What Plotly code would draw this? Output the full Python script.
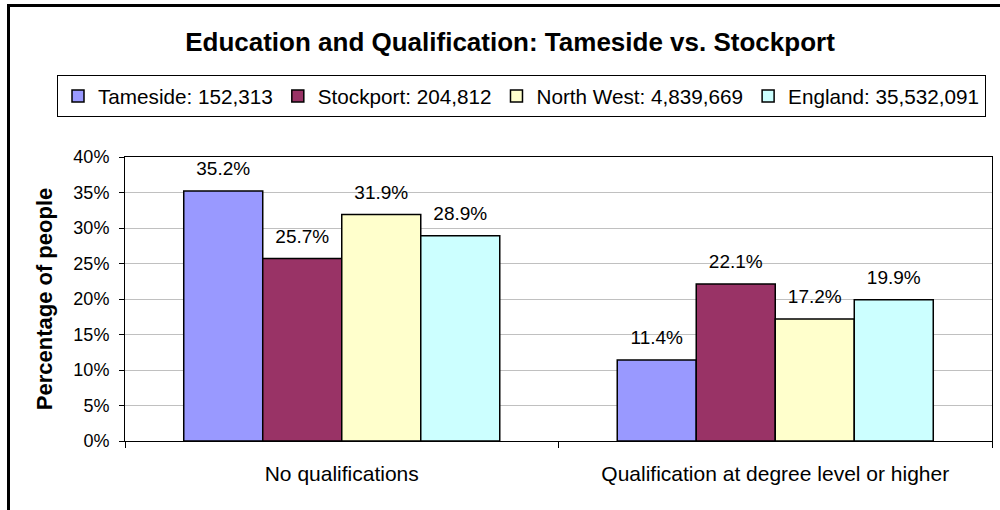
import plotly.graph_objects as go

categories = ["No qualifications", "Qualification at degree level or higher"]
series_names = ["Tameside: 152,313", "Stockport: 204,812",
                "North West: 4,839,669", "England: 35,532,091"]
tameside = [35.2, 11.4]
stockport = [25.7, 22.1]
north_west = [31.9, 17.2]
england = [28.9, 19.9]
colors = ["#9999FF", "#993366", "#FFFFCC", "#CCFFFF"]
y_ticks = [0, 5, 10, 15, 20, 25, 30, 35, 40]
y_tick_labels = ["0%", "5%", "10%", "15%", "20%", "25%", "30%", "35%", "40%"]

FONT = "Liberation Sans, Arial, sans-serif"
values = [tameside, stockport, north_west, england]

fig = go.Figure()
for name, vals, col in zip(series_names, values, colors):
    fig.add_trace(go.Bar(
        x=categories, y=vals, name=name,
        marker=dict(color=col, line=dict(color="black", width=1.5)),
        hoverinfo="skip",
    ))
for name, vals in zip(series_names, values):
    fig.add_trace(go.Scatter(
        x=categories, y=vals, mode="markers+text",
        text=[f"{v:.1f}%" for v in vals], textposition="top center",
        textfont=dict(family=FONT, size=19, color="black"),
        marker=dict(size=16, opacity=0),
        showlegend=False, hoverinfo="skip",
    ))

W, H = 1000, 510
ml, mr, mt, mb = 125, 8, 157, 69
pw, ph = W - ml - mr, H - mt - mb

def px_x(x):
    return (x - ml) / pw

def px_y(y):
    return (H - mb - y) / ph

# outer frame: only left and top edges are visible in the reference
fx0, fy0 = px_x(8.5), px_y(5.5)
fx1, fy1 = px_x(1000), px_y(510)
frame_path = f"M {fx0},{fy1} L {fx0},{fy0} L {fx1},{fy0}"

fig.update_layout(
    width=W, height=H,
    margin=dict(l=ml, r=mr, t=mt, b=mb, pad=0, autoexpand=False),
    paper_bgcolor="white", plot_bgcolor="white",
    barmode="group", bargap=0.271, bargroupgap=0,
    scattermode="group", scattergap=0.271,
    font=dict(family=FONT, color="black"),
    title=dict(text="<b>Education and Qualification: Tameside vs. Stockport</b>",
               font=dict(family=FONT, size=26, color="black"),
               x=0.51, xref="container", xanchor="center",
               y=1 - 42 / H, yref="container", yanchor="middle"),
    legend=dict(orientation="h", x=px_x(57), xanchor="left",
                y=px_y(75), yanchor="top",
                font=dict(family=FONT, size=20.7, color="black"),
                bordercolor="black", borderwidth=1, bgcolor="white",
                traceorder="normal"),
    xaxis=dict(type="category", showline=True, linecolor="black", linewidth=1,
               mirror=True, ticks="outside", tickson="boundaries", ticklen=6,
               tickcolor="black", showgrid=False, automargin=False,
               tickfont=dict(family=FONT, size=21, color="black"),
               ticklabelstandoff=14),
    yaxis=dict(range=[0, 40], tickvals=y_ticks, ticktext=y_tick_labels,
               showline=True, linecolor="black", linewidth=1, mirror=True,
               ticks="outside", ticklen=5, tickcolor="black",
               showgrid=True, gridcolor="#c0c0c0", gridwidth=1,
               zeroline=False, automargin=False,
               tickfont=dict(family=FONT, size=18, color="black"),
               ticklabelstandoff=6,
               title=dict(text="<b>Percentage of people</b>",
                          font=dict(family=FONT, size=22, color="black"),
                          standoff=14)),
    shapes=[dict(type="path", xref="paper", yref="paper", path=frame_path,
                 line=dict(color="black", width=3), layer="above")],
)

fig.write_html(
    "out.html",
    config={"displayModeBar": False},
    post_script=("document.documentElement.style.overflow='hidden';"
                 "document.body.style.margin='0';"
                 "document.body.style.overflow='hidden';"),
)
